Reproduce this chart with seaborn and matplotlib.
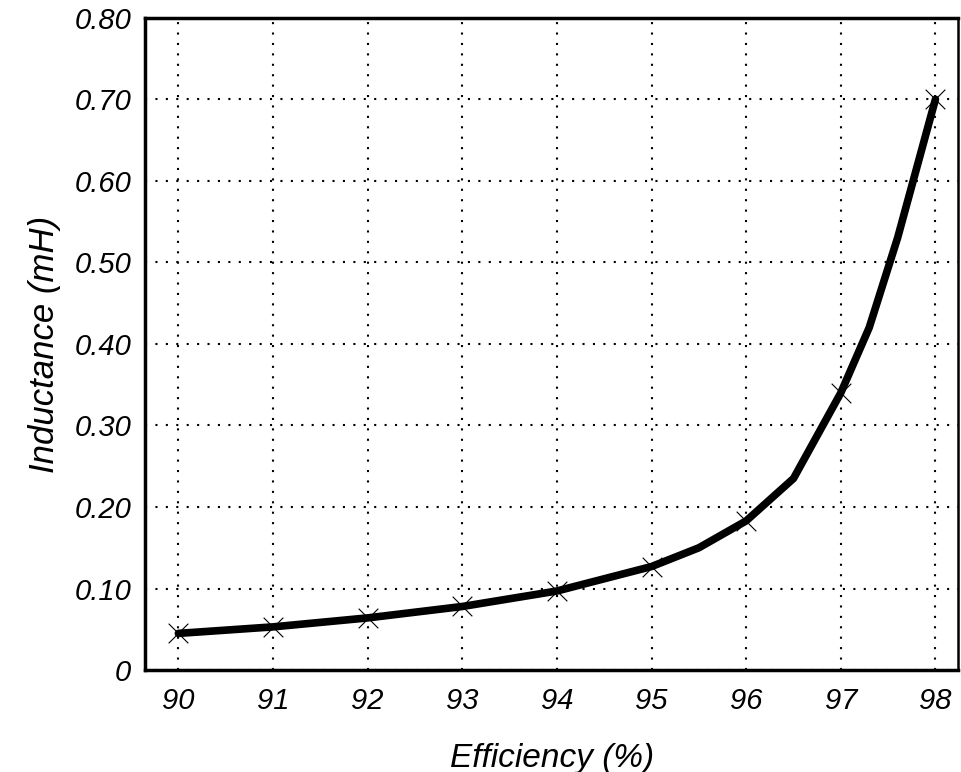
import matplotlib
matplotlib.use("Agg")
import matplotlib.pyplot as plt
import seaborn as sns
import pandas as pd

# Curve (integer efficiencies carry markers)
efficiency = [90, 91, 92, 93, 94, 95, 95.5, 96, 96.5, 97, 97.3, 97.6, 98]
inductance = [0.045, 0.053, 0.064, 0.078, 0.097, 0.127, 0.150, 0.183, 0.235, 0.34, 0.42, 0.53, 0.70]
marker_eff = [90, 91, 92, 93, 94, 95, 96, 97, 98]
marker_ind = [0.045, 0.053, 0.064, 0.078, 0.097, 0.127, 0.183, 0.34, 0.70]
x_ticks = [90, 91, 92, 93, 94, 95, 96, 97, 98]
y_ticks = [0, 0.1, 0.2, 0.3, 0.4, 0.5, 0.6, 0.7, 0.8]
y_labels = ["0", "0.10", "0.20", "0.30", "0.40", "0.50", "0.60", "0.70", "0.80"]

sns.set_style("white")
plt.rcParams["font.family"] = ["Liberation Sans", "DejaVu Sans"]
plt.rcParams["text.color"] = "black"
plt.rcParams["axes.labelcolor"] = "black"
plt.rcParams["xtick.color"] = "black"
plt.rcParams["ytick.color"] = "black"

fig = plt.figure(figsize=(9.62, 7.72), dpi=100)
ax = fig.add_axes([0.151, 0.132, 0.845, 0.845])

df = pd.DataFrame({"eff": efficiency, "ind": inductance})
dm = pd.DataFrame({"eff": marker_eff, "ind": marker_ind})
sns.lineplot(data=df, x="eff", y="ind", ax=ax, color="black", linewidth=5.5,
             solid_capstyle="round", zorder=3)
sns.scatterplot(data=dm, x="eff", y="ind", ax=ax, marker="x", s=200,
                color="black", linewidth=0.8, zorder=4)

ax.set_xlim(89.65, 98.24)
ax.set_ylim(0, 0.80)
ax.set_xticks(x_ticks)
ax.set_xticklabels([str(t) for t in x_ticks])
ax.set_yticks(y_ticks)
ax.set_yticklabels(y_labels)
ax.tick_params(axis="both", length=0, labelsize=21, labelcolor="black")
ax.tick_params(axis="x", pad=12)
ax.tick_params(axis="y", pad=10)
for lab in ax.get_xticklabels() + ax.get_yticklabels():
    lab.set_fontstyle("italic")

ax.grid(True, color="black", linestyle=(0, (1, 4)), linewidth=1.5)
for s in ["left", "bottom", "top"]:
    ax.spines[s].set_linewidth(2.5)
    ax.spines[s].set_color("black")
ax.spines["right"].set_linewidth(1.8)
ax.spines["right"].set_color("black")

ax.set_xlabel("Efficiency (%)", fontsize=24, fontstyle="italic", labelpad=20,
              color="black")
ax.set_ylabel("Inductance (mH)", fontsize=25, fontstyle="italic", labelpad=10,
              color="black")

fig.savefig("out.png", dpi=100)
